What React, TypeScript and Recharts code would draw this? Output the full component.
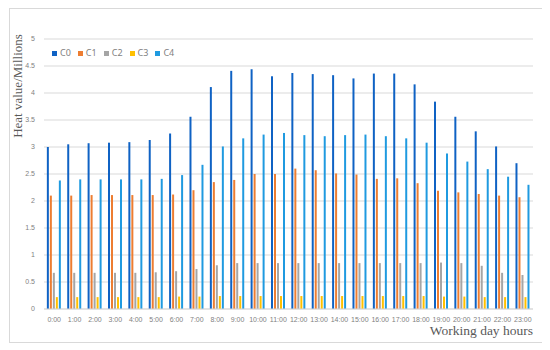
import { BarChart, Bar, XAxis, YAxis, CartesianGrid } from 'recharts'

const hours = [
  '0:00', '1:00', '2:00', '3:00', '4:00', '5:00', '6:00', '7:00', '8:00', '9:00', '10:00', '11:00',
  '12:00', '13:00', '14:00', '15:00', '16:00', '17:00', '18:00', '19:00', '20:00', '21:00', '22:00', '23:00',
]

const c0 = [3.0, 3.05, 3.07, 3.08, 3.09, 3.13, 3.25, 3.56, 4.11, 4.41, 4.44, 4.31, 4.37, 4.35, 4.33, 4.27, 4.36, 4.36, 4.16, 3.84, 3.56, 3.29, 3.01, 2.70]
const c1 = [2.10, 2.10, 2.11, 2.11, 2.11, 2.11, 2.12, 2.20, 2.35, 2.39, 2.50, 2.50, 2.60, 2.57, 2.51, 2.49, 2.41, 2.42, 2.33, 2.19, 2.16, 2.13, 2.10, 2.07]
const c2 = [0.67, 0.67, 0.67, 0.67, 0.67, 0.68, 0.70, 0.74, 0.81, 0.85, 0.85, 0.85, 0.85, 0.85, 0.85, 0.85, 0.85, 0.85, 0.85, 0.86, 0.85, 0.80, 0.67, 0.63]
const c3 = [0.22, 0.22, 0.22, 0.22, 0.22, 0.22, 0.23, 0.23, 0.24, 0.24, 0.24, 0.24, 0.24, 0.24, 0.24, 0.24, 0.24, 0.24, 0.24, 0.23, 0.23, 0.22, 0.22, 0.22]
const c4 = [2.38, 2.40, 2.40, 2.40, 2.40, 2.41, 2.48, 2.67, 3.01, 3.16, 3.23, 3.26, 3.22, 3.20, 3.22, 3.23, 3.20, 3.16, 3.08, 2.88, 2.73, 2.59, 2.45, 2.30]

const yTicks = [0, 0.5, 1, 1.5, 2, 2.5, 3, 3.5, 4, 4.5, 5]

const SERIES = [
  { key: 'C0', values: c0, color: '#0F62C4' },
  { key: 'C1', values: c1, color: '#ED7D31' },
  { key: 'C2', values: c2, color: '#A5A5A5' },
  { key: 'C3', values: c3, color: '#FFC000' },
  { key: 'C4', values: c4, color: '#1F9AE0' },
]

const data = hours.map((h, i) => {
  const row: Record<string, any> = { hour: h }
  SERIES.forEach((s) => { row[s.key] = s.values[i] })
  return row
})

const tickStyle = { fontSize: 7, fill: '#7f7f7f', fontFamily: 'Liberation Sans' }

export default function App() {
  return (
    <div
      style={{
        position: 'relative',
        width: 532,
        height: 333,
        marginLeft: 1,
        border: '1px solid #d9d9d9',
        background: '#fff',
      }}
    >
      <BarChart
        width={532}
        height={333}
        data={data}
        margin={{ top: 30, right: 9, left: 0, bottom: 19 }}
        barCategoryGap="14%"
        barGap={1}
      >
        <CartesianGrid vertical={false} stroke="#d9d9d9" />
        <XAxis
          dataKey="hour"
          interval={0}
          height={14}
          tick={tickStyle}
          tickSize={0}
          tickMargin={8}
          axisLine={{ stroke: '#d9d9d9' }}
        />
        <YAxis
          domain={[0, 5]}
          ticks={yTicks}
          width={34}
          tick={tickStyle}
          tickSize={0}
          tickMargin={9}
          axisLine={false}
        />
        {SERIES.map((s) => (
          <Bar key={s.key} dataKey={s.key} fill={s.color} isAnimationActive={false} />
        ))}
      </BarChart>

      {/* legend, top-left inside the plot */}
      <div
        style={{
          position: 'absolute',
          left: 42,
          top: 39,
          display: 'flex',
          gap: 7,
          fontFamily: 'Noto Sans',
          fontSize: 9,
          color: '#7f7f7f',
          lineHeight: '10px',
        }}
      >
        {SERIES.map((s) => (
          <div key={s.key} style={{ display: 'flex', alignItems: 'center', gap: 3 }}>
            <div style={{ width: 5, height: 5, background: s.color }} />
            {s.key}
          </div>
        ))}
      </div>

      <div
        style={{
          position: 'absolute',
          left: 8,
          top: 77,
          transform: 'translate(-50%, -50%) rotate(-90deg)',
          whiteSpace: 'nowrap',
          fontFamily: 'Liberation Serif',
          fontSize: 13,
          color: '#595959',
        }}
      >
        Heat value/Millions
      </div>

      <div
        style={{
          position: 'absolute',
          right: 9,
          top: 314,
          whiteSpace: 'nowrap',
          fontFamily: 'Liberation Serif',
          fontSize: 13.5,
          color: '#595959',
        }}
      >
        Working day hours
      </div>
    </div>
  )
}
